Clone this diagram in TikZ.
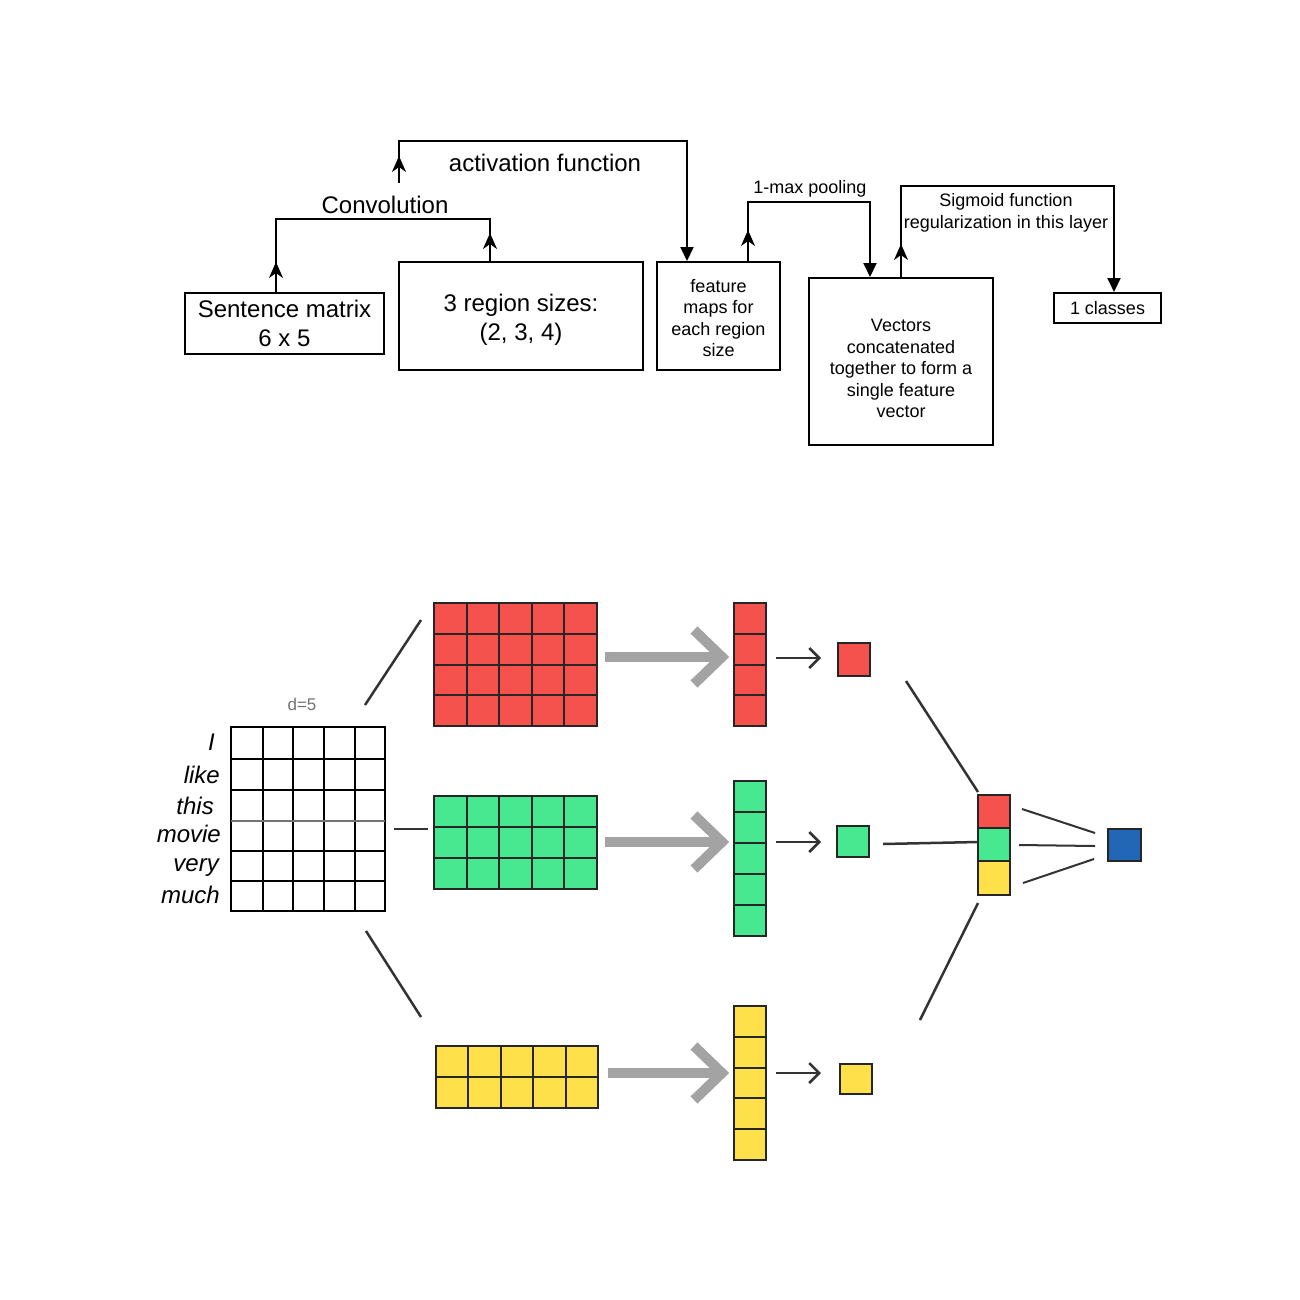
\documentclass[tikz,border=0pt]{standalone}
\usepackage{fontspec}
\setmainfont{Liberation Sans}
\usetikzlibrary{arrows.meta,decorations.markings,calc}
\definecolor{cred}{HTML}{F5524E}
\definecolor{cgreen}{HTML}{47E88F}
\definecolor{cyellow}{HTML}{FDE04A}
\definecolor{cblue}{HTML}{2167B5}
\definecolor{cgrey}{HTML}{A3A3A3}
\definecolor{cline}{HTML}{333333}
\newcommand{\cellsgrid}[7]{%
  \draw[cellborder, fill=#7] (#1,#2) rectangle (#3,#4);
  \pgfmathtruncatemacro{\cgNc}{#5-1}%
  \pgfmathtruncatemacro{\cgNr}{#6-1}%
  \ifnum\cgNc>0 \foreach \i in {1,...,\cgNc} {\draw[cellborder] ({#1+(#3-#1)*\i/#5},#2) -- ({#1+(#3-#1)*\i/#5},#4);}\fi
  \ifnum\cgNr>0 \foreach \j in {1,...,\cgNr} {\draw[cellborder] (#1,{#2+(#4-#2)*\j/#6}) -- (#3,{#2+(#4-#2)*\j/#6});}\fi
}
\begin{document}
\begin{tikzpicture}[x=1pt,y=-1pt,
  box/.style={draw, line width=2pt, inner sep=0pt, align=center, text=black},
  bigtxt/.style={font=\fontsize{24}{28.5}\selectfont},
  smalltxt/.style={font=\fontsize{18}{21.5}\selectfont},
  flow/.style={line width=2pt},
  upmark/.style={postaction={decorate,decoration={markings,mark=at position #1 with {\arrow{Stealth[length=16pt,width=14pt,inset=5pt]}}}}},
  uprev/.style={postaction={decorate,decoration={markings,mark=at position #1 with {\arrowreversed{Stealth[length=16pt,width=14pt,inset=5pt]}}}}},
  downtip/.style={-{Triangle[length=14pt,width=13pt]}},
  cellborder/.style={line width=2pt, draw=black!85},
  link/.style={line width=2.5pt, draw=cline},
  bigarrow/.style={line width=10pt, draw=cgrey, miter limit=10},
  smallarrow/.style={line width=2.5pt, draw=cline, -{Straight Barb[length=10pt,width=20pt]}},
  word/.style={anchor=base east, font=\fontsize{24}{28}\selectfont\itshape, inner sep=0pt}
]
\useasboundingbox (0,0) rectangle (1300,1300);
\fill[white] (0,0) rectangle (1300,1300);

% ---------- top flow chart ----------
\node[box, minimum width=199pt, minimum height=61pt] (sm) at (284.5,323.5) {};
\node[bigtxt, align=center, inner sep=0pt] (smtext) at (sm.center) {Sentence matrix\\6 x 5};
\node[box, minimum width=244pt, minimum height=108pt] (rs) at (521,316) {};
\node[bigtxt, align=center, inner sep=0pt] (rstext) at ([yshift=-4pt]rs.center) {3 region sizes:\\(2, 3, 4)};
\node[box, minimum width=123pt, minimum height=108pt] (fm) at (718.5,316) {};
\node[smalltxt, align=center, inner sep=0pt] (fmtext) at ([yshift=-2pt]fm.center) {feature\\maps for\\each region\\size};
\node[box, minimum width=184pt, minimum height=167pt] (vc) at (901,361.5) {};
\node[smalltxt, align=center, inner sep=0pt] (vctext) at ([yshift=-7pt]vc.center) {Vectors\\concatenated\\together to form a\\single feature\\vector};
\node[box, smalltxt, minimum width=107pt, minimum height=30pt] (cl) at (1107.5,308) {1 classes};

\node[bigtxt, inner sep=0pt] (lconv) at (385,205) {Convolution};
\node[bigtxt, inner sep=0pt] (lact) at (545,163) {activation function};
\node[smalltxt, inner sep=0pt] (lpool) at (810,189) {1-max pooling};
\node[smalltxt, inner sep=0pt, align=center] (lsig) at (1006,213) {Sigmoid function\\regularization in this layer};

\coordinate (actstart) at (399,183);

\draw[flow, upmark=30pt, uprev=-28pt] ([xshift=-8.5pt]sm.north) -- ++(0,-73) -| ([xshift=-31pt]rs.north);
\draw[flow, downtip, upmark=27pt] (actstart) -- (399,141) -| ([xshift=31pt]fm.north west);
\draw[flow, downtip, upmark=31pt] ([xshift=92pt]fm.north west) -- ++(0,-59) -| ([xshift=62pt]vc.north west);
\draw[flow, downtip, upmark=33pt] ([xshift=93pt]vc.north west) -- ++(0,-91) -| ([xshift=61pt]cl.north west);

% ---------- bottom illustration ----------
% sentence matrix
\node[font=\fontsize{17}{20}\selectfont, text=black!55, inner sep=0pt] (dlabel) at (302,704) {d=5};
\node[word] (w1) at (215,750) {I};
\node[word] (w2) at (220,783) {like};
\node[word] (w3) at (214,814) {this};
\node[word] (w4) at (221,842) {movie};
\node[word] (w5) at (219,871) {very};
\node[word] (w6) at (220,903) {much};
\draw[line width=2pt] (231,727) rectangle (385,911);
\foreach \xx in {263,293,324,355} \draw[line width=2pt] (\xx,727) -- (\xx,911);
\foreach \yy in {759,790,851,881} \draw[line width=2pt] (231,\yy) -- (385,\yy);
\draw[line width=2pt, draw=black!55] (231,821) -- (385,821);

% links from matrix
\draw[link] (365,705) -- (421,620);
\draw[link, line width=1.5pt] (394,829) -- (428,829);
\draw[link] (366,931) -- (421,1017);

% feature maps
\cellsgrid{434}{603}{597}{726}{5}{4}{cred}
\cellsgrid{434}{796}{597}{889}{5}{3}{cgreen}
\cellsgrid{436}{1046}{598}{1108}{5}{2}{cyellow}

% big grey arrows
\draw[bigarrow] (605,657) -- (718,657);
\draw[bigarrow] (694,630) -- (722,657) -- (694,684);
\draw[bigarrow] (605,842) -- (718,842);
\draw[bigarrow] (694,815) -- (722,842) -- (694,869);
\draw[bigarrow] (608,1073) -- (718,1073);
\draw[bigarrow] (694,1046) -- (722,1073) -- (694,1100);

% pooled columns
\cellsgrid{734}{603}{766}{726}{1}{4}{cred}
\cellsgrid{734}{781}{766}{936}{1}{5}{cgreen}
\cellsgrid{734}{1006}{766}{1160}{1}{5}{cyellow}

% small arrows
\draw[smallarrow] (776,658) -- (821,658);
\draw[smallarrow] (776,842) -- (821,842);
\draw[smallarrow] (776,1073) -- (821,1073);

% max values
\draw[cellborder, fill=cred] (838,643) rectangle (870,676);
\draw[cellborder, fill=cgreen] (837,826) rectangle (869,857);
\draw[cellborder, fill=cyellow] (840,1064) rectangle (872,1094);

% concatenated vector
\draw[cellborder, fill=cred] (978,795) rectangle (1010,828);
\draw[cellborder, fill=cgreen] (978,828) rectangle (1010,861);
\draw[cellborder, fill=cyellow] (978,861) rectangle (1010,895);

\draw[link] (906,681) -- (978,792);
\draw[link] (883,844) -- (978,842);
\draw[link] (920,1020) -- (978,903);

\draw[link, line width=2pt] (1022,809) -- (1095,833);
\draw[link, line width=2pt] (1019,845) -- (1095,846);
\draw[link, line width=2pt] (1023,883) -- (1094,859);

% output
\draw[cellborder, fill=cblue] (1108,829) rectangle (1141,861);
\end{tikzpicture}
\end{document}
